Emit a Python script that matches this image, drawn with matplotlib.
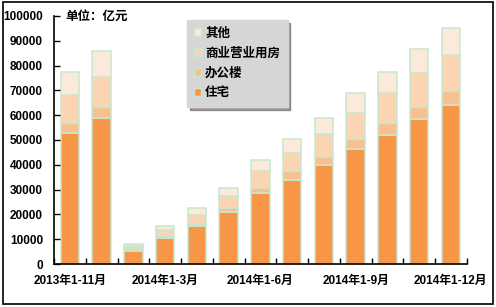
import numpy as np
import matplotlib.pyplot as plt
from matplotlib.patches import Rectangle, Patch

plt.rcParams['font.family'] = ['Liberation Sans', 'Noto Sans CJK SC', 'DejaVu Sans']
plt.rcParams['font.weight'] = 'bold'

# data (亿元)
periods = ['2013年1-11月', '2013年1-12月', '2014年1-2月', '2014年1-3月', '2014年1-4月',
           '2014年1-5月', '2014年1-6月', '2014年1-7月', '2014年1-8月', '2014年1-9月',
           '2014年1-10月', '2014年1-11月', '2014年1-12月']
residential = [52900, 58750, 5370, 10350, 15200, 20850, 28500, 34000, 40050, 46500, 52150, 58600, 64250]
office = [4100, 4650, 680, 1050, 900, 1850, 2300, 3400, 3250, 4000, 4850, 4800, 5650]
commercial = [11000, 12100, 1200, 2300, 3500, 4700, 6600, 7200, 9000, 10500, 11800, 13500, 14250]
other = [9300, 10500, 650, 1500, 2850, 3100, 4400, 5650, 6450, 7800, 8500, 9650, 10900]
series_names = ['住宅', '办公楼', '商业营业用房', '其他']
colors = ['#F79646', '#FABF8F', '#FBD4B4', '#FDE9D9']
edge = '#C8E8CF'

fig = plt.figure(figsize=(4.96, 3.07), dpi=100)
ax = fig.add_axes([0.109, 0.140, 0.832, 0.808])

x = np.arange(len(periods))
bottom = np.zeros(len(periods))
handles = []
for vals, name, c in zip([residential, office, commercial, other], series_names, colors):
    ax.bar(x, vals, width=0.58, bottom=bottom, color=c, edgecolor=edge, linewidth=1.1, label=name)
    bottom += np.array(vals)
    handles.append(Patch(facecolor=c, edgecolor=edge, linewidth=1.0, label=name))

ax.set_xlim(-0.5, len(periods) - 0.5)
ax.set_ylim(0, 100000)
ax.set_yticks(np.arange(0, 100001, 10000))
ax.set_yticklabels([str(v) for v in range(0, 100001, 10000)])
ax.set_xticks(x[::3])
ax.set_xticklabels([periods[i] for i in x[::3]])
ax.set_xticks(np.arange(-0.5, len(periods)), minor=True)
ax.tick_params(axis='x', which='major', length=0, pad=8, labelsize=8.5)
ax.tick_params(axis='x', which='minor', direction='in', length=4, width=1)
ax.tick_params(axis='y', direction='in', length=4, width=1, pad=8, labelsize=8.5)
for lab in ax.get_xticklabels() + ax.get_yticklabels():
    lab.set_fontweight('bold')
for s in ['top', 'right']:
    ax.spines[s].set_visible(False)
for s in ['left', 'bottom']:
    ax.spines[s].set_linewidth(1.2)

fig.text(0.131, 0.946, '单位：亿元', fontsize=9, fontweight='bold', va='center', ha='left')

leg = ax.legend(handles=handles[::-1], loc='upper left', bbox_to_anchor=(0.377, 0.935),
                bbox_transform=fig.transFigure, frameon=True, fancybox=False, shadow=True,
                facecolor='#D6D6D6', edgecolor='#D6D6D6', framealpha=1,
                handlelength=0.55, handleheight=0.55, handletextpad=0.3,
                labelspacing=0.62, borderpad=0.6, borderaxespad=0,
                prop={'size': 9, 'weight': 'bold'})

fig.patches.append(Rectangle((0.006, 0.01), 0.988, 0.982, transform=fig.transFigure,
                             fill=False, edgecolor='black', linewidth=1.2))

fig.savefig('out.png', dpi=100)
